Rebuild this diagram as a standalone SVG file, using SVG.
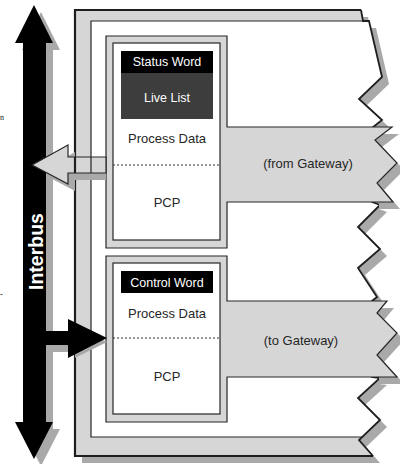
<svg xmlns="http://www.w3.org/2000/svg" width="400" height="464" viewBox="0 0 400 464">
<style>
.sh{fill:#a9a9a9;stroke:none}
.gr{fill:#d6d6d6;stroke:none}
.wh{fill:#fff;stroke:none}
.ln{fill:none;stroke:#262626;stroke-width:1.2}
.lnb{fill:none;stroke:#1e1e1e;stroke-width:2.2;stroke-linejoin:miter}
.mod{fill:#d6d6d6;stroke:#262626;stroke-width:1.2}
.box{fill:#fff;stroke:#262626;stroke-width:1.2}
.dash{stroke:#333;stroke-width:1;stroke-dasharray:2,2}
.t{font-family:"Liberation Sans",Arial,sans-serif;font-size:13px;fill:#262626;text-anchor:middle}
.tw{font-family:"Liberation Sans",Arial,sans-serif;font-size:12.5px;fill:#fff;text-anchor:middle}
.ga{fill:#d6d6d6;stroke:#262626;stroke-width:1.2;stroke-linejoin:miter}
</style>
<rect width="400" height="464" fill="#fff"/>
<g id="frame">
<path class="sh" transform="translate(7,7)" d="M75,10 H361 L363,21 L369,21 L382,77 L359,99 L382,120 L372,128 L372,202 L380,205 L358,227 L380,249 L358,268 L377,297 L372,301 L372,377 L380,378 L358,398 L380,420 L359,440 L373,456 H75 Z"/>
<path class="gr" d="M75,10 H361 L363,21 L369,21 L382,77 L359,99 L382,120 L372,128 L372,202 L380,205 L358,227 L380,249 L358,268 L377,297 L372,301 L372,377 L380,378 L358,398 L380,420 L359,440 L373,456 H75 Z"/>
<path class="wh" d="M91,21 H369 L382,77 L359,99 L382,120 L372,128 L372,202 L380,205 L358,227 L380,249 L358,268 L377,297 L372,301 L372,377 L380,378 L358,398 L380,420 L362,437 H91 Z"/>
<path class="ln" d="M369,21 H91 V437 H362"/>
<path class="lnb" d="M361,10 H75 V456 H373"/>
<path fill="none" stroke="#1e1e1e" stroke-width="1.8" stroke-linejoin="miter" d="M361,10 L363,21 L369,21 L382,77 L359,99 L382,120 L372,128 L372,202 L380,205 L358,227 L380,249 L358,268 L377,297 L372,301 L372,377 L380,378 L358,398 L380,420 L359,440 L373,456"/>
</g>
<g id="module1">
<path class="sh" transform="translate(7,7)" d="M372,127 H392 L375,140 L397,163 L377,183 L393,202 H372 Z"/>
<path class="mod" d="M106,36 H227 V127 H392 L375,140 L397,163 L377,183 L393,202 H227 V248 H106 Z"/>
<rect class="box" x="113" y="43" width="107" height="197"/>
<rect x="121" y="51" width="92" height="22" fill="#000"/>
<rect x="121" y="73" width="92" height="46" fill="#3d3d3d"/>
<text class="tw" x="167" y="66">Status Word</text>
<text class="tw" x="167" y="101.5" font-size="13">Live List</text>
<text class="t" x="167" y="143">Process Data</text>
<line class="dash" x1="113" y1="165" x2="220" y2="165"/>
<text class="t" x="167" y="206.5">PCP</text>
<text class="t" x="308" y="168">(from Gateway)</text>
</g>
<g id="module2">
<path class="sh" transform="translate(7,7)" d="M372,301 H387 L377,313 L397,333 L377,355 L397,377 H372 Z"/>
<path class="mod" d="M106,256 H227 V301 H387 L377,313 L397,333 L377,355 L397,377 H227 V422 H106 Z"/>
<rect class="box" x="113" y="263" width="107" height="151"/>
<rect x="121" y="271" width="92" height="22" fill="#000"/>
<text class="tw" x="167" y="287">Control Word</text>
<text class="t" x="167" y="317.5">Process Data</text>
<line class="dash" x1="113" y1="338" x2="220" y2="338"/>
<text class="t" x="167" y="381">PCP</text>
<text class="t" x="301" y="345">(to Gateway)</text>
</g>
<g id="interbus">
<path class="sh" transform="translate(7,7)" d="M32,165 L68,145 L68,157 L99,157 L99,173 L68,173 L68,184 Z"/>
<path class="sh" transform="translate(7,7)" d="M34,5 L53,43 L46,43 L46,422 L53,422 L34,459 L15,422 L23,422 L23,43 L15,43 Z"/>
<path fill="#000" d="M34,5 L53,43 L46,43 L46,422 L53,422 L34,459 L15,422 L23,422 L23,43 L15,43 Z"/>
<text transform="translate(42.5,251.5) rotate(-90)" font-family="'Liberation Sans',Arial,sans-serif" font-size="19.5" font-weight="bold" fill="#fff" text-anchor="middle">Interbus</text>
</g>
<g id="connectors">
<path class="ga" d="M32,165 L68,145 L68,157 L106,157 L106,173 L68,173 L68,184 Z"/>
<path fill="none" stroke="#1e1e1e" stroke-width="2.2" d="M75,157 V173"/>
<path class="ln" d="M91,157 V173"/>
<path class="sh" transform="translate(7,7)" d="M46,331 L68,331 L68,319 L100,335 L68,351 L68,345 L46,345 Z"/>
<path fill="#000" d="M44,331 L68,331 L68,319 L107,338 L68,358 L68,345 L44,345 Z"/>
</g>
<text x="0" y="120" font-family="'Liberation Serif','Times New Roman',serif" font-size="8" fill="#222">n</text>
<text x="0" y="297" font-family="'Liberation Serif','Times New Roman',serif" font-size="9" fill="#222">-</text>
</svg>
